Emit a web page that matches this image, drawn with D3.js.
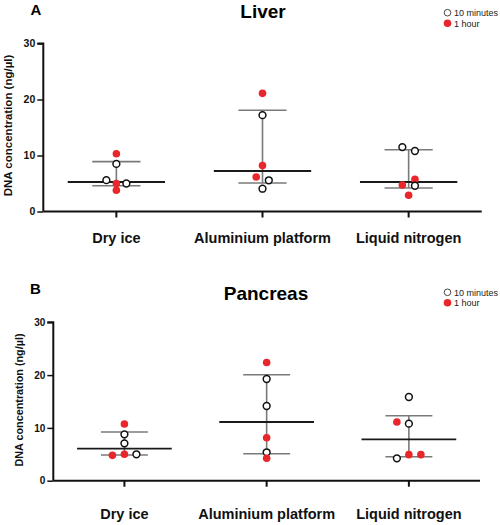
<!DOCTYPE html>
<html><head><meta charset="utf-8">
<script src="https://cdn.jsdelivr.net/npm/d3@7"></script>
<style>
body{margin:0;background:#fff;}
svg{display:block;font-family:"Liberation Sans",Arial,sans-serif;}
</style></head><body>
<svg id="c" width="500" height="525"></svg>
<script>
// ---------- data ----------
const categories = ["Dry ice", "Aluminium platform", "Liquid nitrogen"];
const yTicks = [0, 10, 20, 30];
const seriesNames = ["10 minutes", "1 hour"];

// Liver (panel A): points per category  [value, series(0=10min,1=1h), jitter slot]
const liverValues  = [[10.3, 8.5, 5.6, 5.0, 5.0, 3.8], [21.1, 17.2, 8.2, 6.16, 5.57, 4.07], [11.5, 10.8, 5.75, 4.73, 4.6, 2.9]];
const liverSeries  = [[1, 0, 0, 1, 0, 1], [1, 0, 1, 1, 0, 0], [0, 0, 1, 1, 0, 1]];
const liverJitter  = [[0, 0, -1, 0, 1, 0], [0, 0, 0, -1, 1, 0], [-1, 1, 1, -1, 1, 0]];
const liverMedian  = [5.27, 7.23, 5.27];
const liverQ1      = [4.6, 5.09, 4.2];
const liverQ3      = [8.9, 18.07, 11.04];

// Pancreas (panel B)
const pancValues   = [[10.74, 8.78, 7.08, 5.0, 4.8, 5.0], [22.4, 19.26, 14.15, 8.14, 5.38, 4.24], [15.85, 11.12, 10.8, 4.93, 4.93, 4.24]];
const pancSeries   = [[1, 0, 0, 1, 1, 0], [1, 0, 0, 1, 0, 1], [0, 1, 0, 1, 1, 0]];
const pancJitter   = [[0, 0, 0, 0, -1, 1], [0, 0, 0, 0, 0, 0], [0, -1, 0, 0, 1, -1]];
const pancMedian   = [6.06, 11.12, 7.84];
const pancQ1       = [4.87, 5.11, 4.55];
const pancQ3       = [9.22, 20.08, 12.3];

// ---------- drawing ----------
const svg = d3.select("#c");
const RED = "#e8262b";

function panel(cfg) {
  const g = svg.append("g");
  const x = d3.scaleBand().domain(categories).range([cfg.x0, cfg.x1]);
  const y = d3.scaleLinear().domain([0, 30]).range([cfg.y0, cfg.y30]);
  const cx = c => x(c) + x.bandwidth() / 2;

  // panel letter + title
  g.append("text").attr("x", cfg.letterX).attr("y", cfg.letterY).attr("text-anchor", "middle")
    .attr("font-size", 15).attr("font-weight", "bold").text(cfg.letter);
  g.append("text").attr("x", cfg.titleX).attr("y", cfg.titleY).attr("text-anchor", "middle")
    .attr("font-size", 19).attr("font-weight", "bold").text(cfg.title);

  // legend
  const lg = g.append("g");
  seriesNames.forEach((s, i) => {
    const ly = cfg.legendY + i * 10.5;
    lg.append("circle").attr("cx", 447.5).attr("cy", ly).attr("r", i ? 3.8 : 3.3)
      .attr("fill", i ? RED : "#fff").attr("stroke", i ? "none" : "#333").attr("stroke-width", 0.9);
    lg.append("text").attr("x", 454).attr("y", ly + 3.3).attr("font-size", 9).attr("fill", "#222").text(s);
  });

  // y axis
  const ya = d3.axisLeft(y).tickValues(yTicks).tickSize(6).tickPadding(2);
  const yg = g.append("g").attr("transform", `translate(${cfg.x0},0)`).call(ya);
  yg.select(".domain").attr("stroke", "#111").attr("stroke-width", 2).attr("d", `M-6,${cfg.y30}H0V${cfg.y0}`);
  yg.selectAll(".tick line").attr("stroke", "#111").attr("stroke-width", 1.5);
  yg.selectAll(".tick text").attr("font-size", cfg.tickFont).attr("font-weight", "bold").attr("fill", "#111")
    .attr("font-family", "Liberation Sans, Arial, sans-serif");

  // x axis
  const xa = d3.axisBottom(x).tickSize(6).tickPadding(cfg.labelPad);
  const xg = g.append("g").attr("transform", `translate(0,${cfg.y0})`).call(xa);
  xg.select(".domain").attr("stroke", "#111").attr("stroke-width", 2).attr("d", `M${cfg.x0},0H${cfg.x1}`);
  xg.selectAll(".tick line").attr("stroke", "#111").attr("stroke-width", 2);
  xg.selectAll(".tick text").attr("font-size", 14.5).attr("font-weight", "bold").attr("fill", "#111")
    .attr("font-family", "Liberation Sans, Arial, sans-serif");

  // y title
  g.append("text").attr("transform", `translate(${cfg.yTitleX},${cfg.yTitleY}) rotate(-90)`)
    .attr("text-anchor", "middle").attr("font-size", cfg.yTitleFont).attr("font-weight", "bold").attr("fill", "#111")
    .text("DNA concentration (ng/µl)");

  const bw = x.bandwidth();
  categories.forEach((c, i) => {
    const xc = cx(c);
    // vertical IQR line
    g.append("line").attr("x1", xc).attr("x2", xc).attr("y1", y(cfg.q3[i])).attr("y2", y(cfg.q1[i]))
      .attr("stroke", "#7a7a7a").attr("stroke-width", 1.6);
    // caps
    [cfg.q1[i], cfg.q3[i]].forEach(v => {
      g.append("line").attr("x1", xc - bw * 0.165).attr("x2", xc + bw * 0.165).attr("y1", y(v)).attr("y2", y(v))
        .attr("stroke", "#7a7a7a").attr("stroke-width", 1.6);
    });
    // median
    g.append("line").attr("x1", xc - bw * 0.333).attr("x2", xc + bw * 0.333)
      .attr("y1", y(cfg.median[i])).attr("y2", y(cfg.median[i]))
      .attr("stroke", "#1a1a1a").attr("stroke-width", 1.8);
    // points
    const pts = cfg.values[i].map((v, k) => ({ v, s: cfg.series[i][k], j: cfg.jitter[i][k] }));
    g.selectAll(null).data(pts).enter().append("circle")
      .attr("cx", d => xc + d.j * cfg.jitterStep[i])
      .attr("cy", d => y(d.v))
      .attr("r", d => d.s ? 3.8 : 3.4)
      .attr("fill", d => d.s ? RED : "#fff")
      .attr("stroke", d => d.s ? "none" : "#111")
      .attr("stroke-width", 1.5);
  });
}

panel({
  letter: "A", letterX: 36, letterY: 15, title: "Liver", titleX: 263, titleY: 18, legendY: 12.7,
  x0: 43.3, x1: 481.7, y0: 211.5, y30: 43.5, tickFont: 10.5, labelPad: 15,
  yTitleX: 11.5, yTitleY: 125.5, yTitleFont: 11.5,
  values: liverValues, series: liverSeries, jitter: liverJitter,
  median: liverMedian, q1: liverQ1, q3: liverQ3, jitterStep: [10, 6.3, 6.3]
});
panel({
  letter: "B", letterX: 35.5, letterY: 294, title: "Pancreas", titleX: 266, titleY: 300, legendY: 292.3,
  x0: 53.3, x1: 480, y0: 480.7, y30: 322.3, tickFont: 10, labelPad: 22,
  yTitleX: 22.5, yTitleY: 400, yTitleFont: 10.8,
  values: pancValues, series: pancSeries, jitter: pancJitter,
  median: pancMedian, q1: pancQ1, q3: pancQ3, jitterStep: [12, 12, 12]
});
</script></body></html>
